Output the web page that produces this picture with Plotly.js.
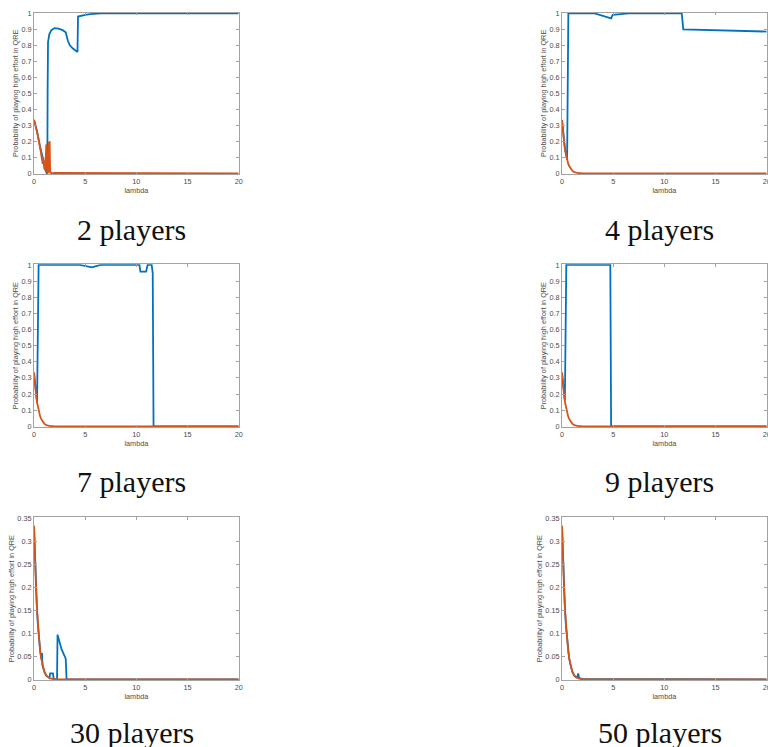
<!DOCTYPE html>
<html>
<head>
<meta charset="utf-8">
<script src="https://cdn.plot.ly/plotly-3.0.1.min.js"></script>
<style>
  html, body { margin: 0; padding: 0; background: #ffffff; }
  #chart { width: 768px; height: 747px; }
</style>
</head>
<body>
<div id="chart"></div>
<script>
// ---------------- DATA ----------------
const panelCaptions = ['2 players', '4 players', '7 players', '9 players', '30 players', '50 players'];
const xTickVals = [0, 5, 10, 15, 20];
const xTickText = ['0', '5', '10', '15', '20'];
const yTickValsFull = [0, 0.1, 0.2, 0.3, 0.4, 0.5, 0.6, 0.7, 0.8, 0.9, 1];
const yTickTextFull = ['0', '0.1', '0.2', '0.3', '0.4', '0.5', '0.6', '0.7', '0.8', '0.9', '1'];
const yTickValsSmall = [0, 0.05, 0.1, 0.15, 0.2, 0.25, 0.3, 0.35];
const yTickTextSmall = ['0', '0.05', '0.1', '0.15', '0.2', '0.25', '0.3', '0.35'];

// 2 players
const lam2Blue = [0, 0.3, 0.6, 0.85, 1.0, 1.17, 1.24, 1.3, 1.33, 1.37, 1.5, 1.7, 2.0, 2.4, 2.8, 3.1, 3.3, 3.5, 3.8, 4.25, 4.3, 4.6, 5, 5.5, 6.5, 20];
const p2Blue   = [0.333, 0.26, 0.165, 0.09, 0.05, 0.015, 0, 0, 0.5, 0.82, 0.87, 0.895, 0.908, 0.905, 0.895, 0.882, 0.83, 0.8, 0.78, 0.758, 0.98, 0.985, 0.99, 0.995, 1, 1];
const lam2Orange = [0, 0.3, 0.6, 0.78, 0.85, 0.9, 1.0, 1.1, 1.2, 1.24, 1.3, 1.4, 1.46, 1.53, 1.58, 1.63, 1.7, 2.0, 20];
const p2Orange   = [0.335, 0.26, 0.16, 0.1, 0.06, 0.1, 0.03, 0.02, 0.18, 0.17, 0, 0.01, 0.19, 0.2, 0, 0.01, 0, 0.003, 0];

// 4 players
const lam4Blue = [0, 0.1, 0.2, 0.3, 0.4, 0.5, 0.62, 3.2, 4.8, 4.95, 6.5, 11.7, 11.85, 15, 20];
const p4Blue   = [0.333, 0.255, 0.195, 0.148, 0.112, 0.085, 1, 1, 0.968, 0.99, 1, 1, 0.9, 0.893, 0.886];
const lam4Orange = [0, 0.05, 0.1, 0.15, 0.2, 0.3, 0.4, 0.5, 0.6, 0.7, 0.8, 0.9, 1.0, 1.2, 1.4, 1.6, 1.8, 2.0, 20];
const p4Orange   = [0.333, 0.29, 0.255, 0.224, 0.195, 0.148, 0.112, 0.084, 0.062, 0.046, 0.034, 0.024, 0.017, 0.008, 0.004, 0.002, 0.001, 0, 0];

// 7 players
const lam7Blue = [0, 0.1, 0.2, 0.3, 0.45, 4.5, 5.65, 6.5, 10.3, 10.4, 10.95, 11.1, 11.5, 11.6, 11.68, 20];
const p7Blue   = [0.333, 0.255, 0.195, 0.148, 1, 1, 0.985, 1, 1, 0.958, 0.958, 1, 1, 0.95, 0, 0];
const lam7Orange = [0, 0.05, 0.1, 0.15, 0.2, 0.3, 0.4, 0.5, 0.6, 0.7, 0.8, 0.9, 1.0, 1.2, 1.4, 1.6, 1.8, 2.0, 20];
const p7Orange   = [0.333, 0.29, 0.255, 0.224, 0.195, 0.148, 0.112, 0.084, 0.062, 0.046, 0.034, 0.024, 0.017, 0.008, 0.004, 0.002, 0.001, 0, 0];

// 9 players
const lam9Blue = [0, 0.1, 0.2, 0.28, 0.42, 4.72, 4.8, 20];
const p9Blue   = [0.333, 0.255, 0.195, 0.16, 1, 1, 0, 0];
const lam9Orange = [0, 0.05, 0.1, 0.15, 0.2, 0.3, 0.4, 0.5, 0.6, 0.7, 0.8, 0.9, 1.0, 1.2, 1.4, 1.6, 1.8, 2.0, 20];
const p9Orange   = [0.333, 0.29, 0.255, 0.224, 0.195, 0.148, 0.112, 0.084, 0.062, 0.046, 0.034, 0.024, 0.017, 0.008, 0.004, 0.002, 0.001, 0, 0];

// 30 players
const lam30Blue = [0, 0.1, 0.2, 0.3, 0.4, 0.5, 0.6, 0.72, 0.78, 0.83, 0.9, 1.0, 1.2, 1.4, 1.5, 1.58, 1.85, 1.93, 2.25, 2.3, 2.5, 2.7, 3.1, 3.18, 20];
const p30Blue   = [0.333, 0.255, 0.195, 0.148, 0.112, 0.084, 0.062, 0.044, 0.057, 0.03, 0.024, 0.017, 0.008, 0.004, 0.003, 0.013, 0.013, 0, 0, 0.097, 0.083, 0.065, 0.045, 0, 0];
const lam30Orange = [0, 0.05, 0.1, 0.15, 0.2, 0.3, 0.4, 0.5, 0.6, 0.7, 0.8, 0.9, 1.0, 1.2, 1.4, 1.6, 1.8, 2.0, 20];
const p30Orange   = [0.333, 0.29, 0.255, 0.224, 0.195, 0.148, 0.112, 0.084, 0.062, 0.046, 0.034, 0.024, 0.017, 0.008, 0.004, 0.002, 0.001, 0, 0];

// 50 players
const lam50Blue = [0, 0.1, 0.2, 0.3, 0.4, 0.5, 0.6, 0.7, 0.8, 0.9, 1.0, 1.2, 1.4, 1.5, 1.58, 1.66, 1.75, 2.0, 20];
const p50Blue   = [0.333, 0.255, 0.195, 0.148, 0.112, 0.084, 0.062, 0.046, 0.034, 0.024, 0.017, 0.008, 0.004, 0.006, 0.013, 0.004, 0.002, 0.001, 0];
const lam50Orange = [0, 0.05, 0.1, 0.15, 0.2, 0.3, 0.4, 0.5, 0.6, 0.7, 0.8, 0.9, 1.0, 1.2, 1.4, 1.6, 1.8, 2.0, 20];
const p50Orange   = [0.333, 0.29, 0.255, 0.224, 0.195, 0.148, 0.112, 0.084, 0.062, 0.046, 0.034, 0.024, 0.017, 0.008, 0.004, 0.002, 0.001, 0, 0];

// ---------------- LAYOUT / STYLE ----------------
const W = 768, H = 747;
const BLUE = '#0072BD', ORANGE = '#D95319';
const colPx = [[34, 238.7], [562, 766.7]];
const rowPx = [[12.7, 174], [264.3, 427], [517.3, 680]];
const captionXPx = [131.7, 659.7];
const captionYPx = [229, 481, 732];

const panels = [
  {bx: lam2Blue,  by: p2Blue,  ox: lam2Orange,  oy: p2Orange,  small: false},
  {bx: lam4Blue,  by: p4Blue,  ox: lam4Orange,  oy: p4Orange,  small: false},
  {bx: lam7Blue,  by: p7Blue,  ox: lam7Orange,  oy: p7Orange,  small: false},
  {bx: lam9Blue,  by: p9Blue,  ox: lam9Orange,  oy: p9Orange,  small: false},
  {bx: lam30Blue, by: p30Blue, ox: lam30Orange, oy: p30Orange, small: true},
  {bx: lam50Blue, by: p50Blue, ox: lam50Orange, oy: p50Orange, small: true}
];

const axisFont = {family: 'Liberation Sans, Arial, sans-serif', size: 7.3, color: '#4d4d4d'};
const lineCol = '#a3a3a3';

const data = [];
const layout = {
  width: W, height: H,
  margin: {l: 0, r: 0, t: 0, b: 0},
  paper_bgcolor: '#ffffff', plot_bgcolor: '#ffffff',
  showlegend: false,
  annotations: []
};

panels.forEach((p, i) => {
  const col = i % 2, row = Math.floor(i / 2);
  const sfx = i === 0 ? '' : String(i + 1);
  const xa = 'x' + sfx, ya = 'y' + sfx;
  data.push({x: p.bx, y: p.by, xaxis: xa, yaxis: ya, type: 'scatter', mode: 'lines',
             line: {color: BLUE, width: 1.8}, hoverinfo: 'skip'});
  data.push({x: p.ox, y: p.oy, xaxis: xa, yaxis: ya, type: 'scatter', mode: 'lines',
             line: {color: ORANGE, width: 1.8}, hoverinfo: 'skip'});
  const ymax = p.small ? 0.35 : 1;
  const pad = ymax * 0.004;
  layout['xaxis' + sfx] = {
    domain: [colPx[col][0] / W, colPx[col][1] / W],
    anchor: ya, range: [0, 20],
    tickvals: xTickVals, ticktext: xTickText,
    ticklabeloverflow: 'allow',
    showgrid: false, zeroline: false, showline: true, mirror: 'ticks',
    linecolor: lineCol, linewidth: 1, ticks: 'inside', ticklen: 2.5, tickwidth: 1, tickcolor: lineCol,
    tickfont: axisFont,
    title: {text: 'lambda', font: axisFont, standoff: 2}
  };
  layout['yaxis' + sfx] = {
    domain: [1 - rowPx[row][1] / H, 1 - rowPx[row][0] / H],
    anchor: xa, range: [-pad, ymax + pad],
    tickvals: p.small ? yTickValsSmall : yTickValsFull,
    ticktext: p.small ? yTickTextSmall : yTickTextFull,
    showgrid: false, zeroline: false, showline: true, mirror: 'ticks',
    linecolor: lineCol, linewidth: 1, ticks: 'inside', ticklen: 2.5, tickwidth: 1, tickcolor: lineCol,
    tickfont: axisFont,
    title: {text: 'Probability of playing high effort in QRE', font: axisFont, standoff: 1}
  };
  layout.annotations.push({
    text: panelCaptions[i], xref: 'paper', yref: 'paper',
    x: captionXPx[col] / W, y: 1 - captionYPx[row] / H,
    xanchor: 'center', yanchor: 'middle', showarrow: false,
    font: {family: 'Liberation Serif, Times New Roman, serif', size: 30, color: '#111111'}
  });
});

Plotly.newPlot('chart', data, layout, {displayModeBar: false, staticPlot: true});
</script>
</body>
</html>
